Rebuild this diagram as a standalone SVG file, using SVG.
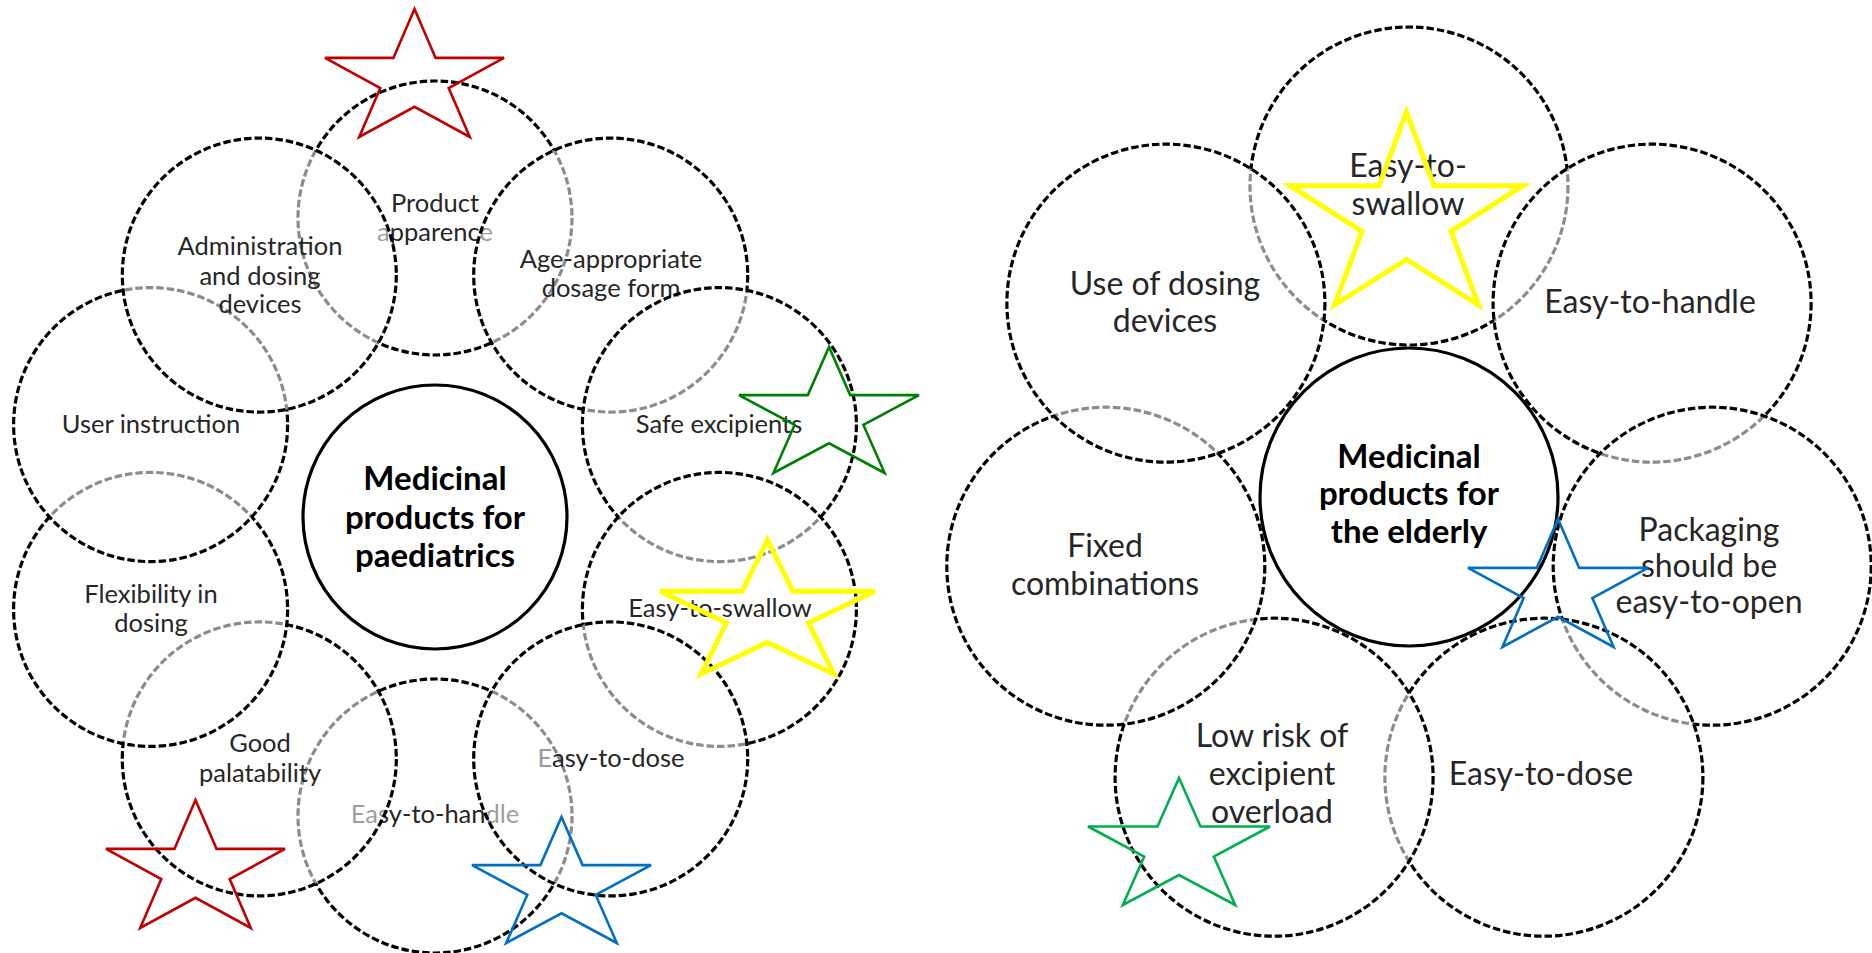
<svg xmlns="http://www.w3.org/2000/svg" width="1872" height="953" viewBox="0 0 1872 953">
<style>
.c{fill:#fff;fill-opacity:0.55;stroke:#000;stroke-width:3.2;stroke-dasharray:7.5 3}
.t{font-family:Lato,"Liberation Sans",sans-serif;fill:#262626;text-anchor:middle}
.tl{font-size:25.5px}
.tr{font-size:32px}
.ct{font-family:Lato,"Liberation Sans",sans-serif;font-weight:bold;font-size:33px;fill:#000;text-anchor:middle}
.hub{fill:none;stroke:#000;stroke-width:3.2}
.s{fill:none;stroke-width:2.6;stroke-linejoin:miter}
.red{stroke:#C00000}
.grn{stroke:#008000}
.grn2{stroke:#00B050}
.blu{stroke:#0070C0}
.yel{stroke:#FFFF00;stroke-width:5}
</style>
<rect width="1872" height="953" fill="#fff"/>
<g id="connectors"/>
<!-- Left diagram -->
<g id="paed-product"><circle class="c" cx="435" cy="218" r="137"/><text class="t tl" x="435" y="212">Product</text><text class="t tl" x="435" y="240.5">apparence</text></g>
<g id="paed-handle"><circle class="c" cx="435" cy="816" r="137"/><text class="t tl" x="435" y="823">Easy-to-handle</text></g>
<g id="paed-age"><circle class="c" cx="610.7" cy="275.1" r="137"/><text class="t tl" x="611" y="268">Age-appropriate</text><text class="t tl" x="611" y="297">dosage form</text></g>
<g id="paed-good"><circle class="c" cx="259.3" cy="758.9" r="137"/><text class="t tl" x="260" y="752">Good</text><text class="t tl" x="260" y="782">palatability</text></g>
<g id="paed-safe"><circle class="c" cx="719.4" cy="424.6" r="137"/><text class="t tl" x="719" y="433">Safe excipients</text></g>
<g id="paed-flex"><circle class="c" cx="150.6" cy="609.4" r="137"/><text class="t tl" x="151" y="603">Flexibility in</text><text class="t tl" x="151" y="632">dosing</text></g>
<g id="paed-swallow"><circle class="c" cx="719.4" cy="609.4" r="137"/><text class="t tl" x="720" y="617">Easy-to-swallow</text></g>
<g id="paed-user"><circle class="c" cx="150.6" cy="424.6" r="137"/><text class="t tl" x="151" y="433">User instruction</text></g>
<g id="paed-dose"><circle class="c" cx="610.7" cy="758.9" r="137"/><text class="t tl" x="611" y="767"><tspan fill="#999">E</tspan>asy-to-dose</text></g>
<g id="paed-admin"><circle class="c" cx="259.3" cy="275.1" r="137"/><text class="t tl" x="260" y="255">Administration</text><text class="t tl" x="260" y="285">and dosing</text><text class="t tl" x="260" y="313">devices</text></g>
<g id="paed-hub"><circle class="hub" cx="435" cy="517" r="132"/><text class="ct" x="435" y="490">Medicinal</text><text class="ct" x="435" y="529">products for</text><text class="ct" x="435" y="567">paediatrics</text></g>
<!-- Right diagram -->
<g id="eld-swallow"><circle class="c" cx="1409" cy="186" r="159"/><text class="t tr" x="1408" y="177">Easy-to-</text><text class="t tr" x="1408" y="215">swallow</text></g>
<g id="eld-handle"><circle class="c" cx="1652.1" cy="303.1" r="159"/><text class="t tr" x="1650" y="313">Easy-to-handle</text></g>
<g id="eld-packaging"><circle class="c" cx="1712.2" cy="566.2" r="159"/><text class="t tr" x="1709" y="541">Packaging</text><text class="t tr" x="1709" y="577">should be</text><text class="t tr" x="1709" y="613">easy-to-open</text></g>
<g id="eld-dose"><circle class="c" cx="1543.9" cy="777.2" r="159"/><text class="t tr" x="1541" y="785">Easy-to-dose</text></g>
<g id="eld-lowrisk"><circle class="c" cx="1274.1" cy="777.2" r="159"/><text class="t tr" x="1272" y="747">Low risk of</text><text class="t tr" x="1272" y="785">excipient</text><text class="t tr" x="1272" y="823">overload</text></g>
<g id="eld-fixed"><circle class="c" cx="1105.8" cy="566.2" r="159"/><text class="t tr" x="1105" y="557">Fixed</text><text class="t tr" x="1105" y="595">combinations</text></g>
<g id="eld-use"><circle class="c" cx="1165.9" cy="303.1" r="159"/><text class="t tr" x="1165" y="295">Use of dosing</text><text class="t tr" x="1165" y="332">devices</text></g>
<g id="eld-hub"><circle class="hub" cx="1409" cy="497" r="149"/><text class="ct" x="1409" y="468">Medicinal</text><text class="ct" x="1409" y="505">products for</text><text class="ct" x="1409" y="543">the elderly</text></g>
<!-- Stars -->
<g id="stars">
<polygon class="s red" points="414.5,9 435.6,57.9 504,57.9 448.7,88.1 469.8,137 414.5,106.8 359.2,137 380.3,88.1 325,57.9 393.4,57.9"/>
<polygon class="s grn" points="829,347 850.2,395.1 919,395.1 863.4,424.9 884.6,473 829,443.3 773.4,473 794.6,424.9 739,395.1 807.8,395.1"/>
<polygon class="s yel" points="767.5,540 792.9,591.2 875,591.2 808.6,622.8 833.9,674 767.5,642.4 701.1,674 726.4,622.8 660,591.2 742.1,591.2"/>
<polygon class="s red" points="195.5,800 216.6,848.9 285,848.9 229.7,879.1 250.8,928 195.5,897.8 140.2,928 161.3,879.1 106,848.9 174.4,848.9"/>
<polygon class="s blu" points="561.5,817 582.6,865.1 651,865.1 595.7,894.9 616.8,943 561.5,913.3 506.2,943 527.3,894.9 472,865.1 540.4,865.1"/>
<polygon class="s yel" points="1406.5,112 1434,185.7 1523,185.7 1451,231.3 1478.5,305 1406.5,259.5 1334.5,305 1362,231.3 1290,185.7 1379,185.7"/>
<polygon class="s blu" points="1558,519 1579.2,567.9 1648,567.9 1592.4,598.1 1613.6,647 1558,616.8 1502.4,647 1523.6,598.1 1468,567.9 1536.8,567.9"/>
<polygon class="s grn2" points="1179,778 1200.5,826.5 1270,826.5 1213.8,856.5 1235.2,905 1179,875 1122.8,905 1144.2,856.5 1088,826.5 1157.5,826.5"/>
</g>
</svg>
